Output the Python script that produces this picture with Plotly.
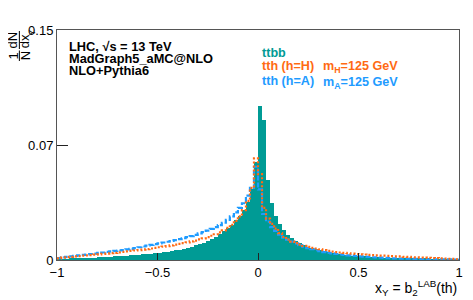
import numpy as np
import plotly.graph_objects as go

# 100 bins of width 0.02 from -1 to 1
bin_edges = np.linspace(-1.0, 1.0, 101)
bin_centers = 0.5 * (bin_edges[:-1] + bin_edges[1:])

ttbb = [
    0.0003, 0.0004, 0.0006, 0.0007, 0.0009, 0.0011, 0.0012, 0.0013, 0.0015, 0.0016,
    0.0018, 0.0019, 0.0020, 0.0022, 0.0023, 0.0025, 0.0026, 0.0028, 0.0030, 0.0032,
    0.0034, 0.0036, 0.0038, 0.0041, 0.0044, 0.0047, 0.0050, 0.0054, 0.0058, 0.0063,
    0.0068, 0.0074, 0.0080, 0.0087, 0.0095, 0.0104, 0.0114, 0.0125, 0.0138, 0.0152,
    0.0168, 0.0186, 0.0206, 0.0229, 0.0258, 0.0290, 0.0325, 0.0380, 0.0460, 0.0640,
    0.1004, 0.0913, 0.0520, 0.0370, 0.0290, 0.0235, 0.0195, 0.0165, 0.0143, 0.0125,
    0.0110, 0.0097, 0.0087, 0.0078, 0.0070, 0.0063, 0.0057, 0.0052, 0.0047, 0.0043,
    0.0039, 0.0035, 0.0032, 0.0029, 0.0027, 0.0025, 0.0023, 0.0021, 0.0019, 0.0017,
    0.0016, 0.0015, 0.0014, 0.0013, 0.0012, 0.0011, 0.0010, 0.0009, 0.0009, 0.0008,
    0.0008, 0.0007, 0.0007, 0.0006, 0.0006, 0.0005, 0.0005, 0.0004, 0.0004, 0.0003,
]

tth_H = [
    0.0010, 0.0015, 0.0018, 0.0021, 0.0023, 0.0025, 0.0028, 0.0030, 0.0032, 0.0035,
    0.0037, 0.0040, 0.0042, 0.0045, 0.0047, 0.0050, 0.0053, 0.0056, 0.0059, 0.0062,
    0.0065, 0.0068, 0.0071, 0.0075, 0.0079, 0.0083, 0.0087, 0.0091, 0.0095, 0.0100,
    0.0105, 0.0110, 0.0115, 0.0121, 0.0127, 0.0134, 0.0141, 0.0149, 0.0158, 0.0168,
    0.0180, 0.0193, 0.0210, 0.0230, 0.0255, 0.0285, 0.0325, 0.0385, 0.0470, 0.0663,
    0.0560, 0.0340, 0.0270, 0.0235, 0.0205, 0.0175, 0.0150, 0.0133, 0.0120, 0.0110,
    0.0100, 0.0092, 0.0085, 0.0079, 0.0075, 0.0070, 0.0064, 0.0059, 0.0055, 0.0052,
    0.0049, 0.0046, 0.0044, 0.0041, 0.0039, 0.0037, 0.0036, 0.0034, 0.0032, 0.0030,
    0.0029, 0.0028, 0.0027, 0.0025, 0.0024, 0.0023, 0.0021, 0.0020, 0.0018, 0.0017,
    0.0016, 0.0015, 0.0014, 0.0013, 0.0012, 0.0010, 0.0009, 0.0008, 0.0007, 0.0005,
]

tth_A = [
    0.0012, 0.0017, 0.0021, 0.0024, 0.0027, 0.0030, 0.0033, 0.0036, 0.0039, 0.0042,
    0.0046, 0.0049, 0.0053, 0.0056, 0.0059, 0.0062, 0.0065, 0.0069, 0.0073, 0.0078,
    0.0083, 0.0088, 0.0094, 0.0099, 0.0104, 0.0109, 0.0114, 0.0119, 0.0124, 0.0130,
    0.0136, 0.0142, 0.0149, 0.0156, 0.0164, 0.0173, 0.0182, 0.0192, 0.0203, 0.0215,
    0.0228, 0.0243, 0.0262, 0.0284, 0.0310, 0.0340, 0.0370, 0.0420, 0.0470, 0.0608,
    0.0460, 0.0300, 0.0250, 0.0215, 0.0190, 0.0165, 0.0145, 0.0133, 0.0120, 0.0108,
    0.0097, 0.0087, 0.0078, 0.0070, 0.0064, 0.0058, 0.0052, 0.0047, 0.0043, 0.0039,
    0.0036, 0.0033, 0.0030, 0.0028, 0.0026, 0.0024, 0.0022, 0.0020, 0.0018, 0.0017,
    0.0015, 0.0014, 0.0012, 0.0011, 0.0010, 0.0009, 0.0009, 0.0008, 0.0007, 0.0007,
    0.0006, 0.0006, 0.0005, 0.0005, 0.0005, 0.0004, 0.0004, 0.0004, 0.0003, 0.0003,
]

x_tickvals = [-1, -0.5, 0, 0.5, 1]
x_ticktext = ["\u22121", "\u22120.5", "0", "0.5", "1"]
y_tickvals = [0, 0.075, 0.15]
y_ticktext = ["0", "0.07", "0.15"]

TEAL = "#009b95"
ORANGE = "#ff6a13"
BLUE = "#1e9bff"
FONT = "Liberation Sans, Arial, Helvetica, sans-serif"

# the page body adds an 8px offset; compensate so the chart lands where the reference has it
OFF = 8
W, H = 473 - OFF, 300 - OFF
L, R, T, B = 57 - OFF, 10, 30 - OFF, 40
PW, PH = W - L - R, H - T - B


def px(x):
    return (x - OFF - L) / PW


def py(y):
    return (H - B - (y - OFF)) / PH


def step(vals):
    return list(bin_edges), list(vals) + [vals[-1]]


fig = go.Figure()
fig.add_trace(go.Bar(x=bin_centers, y=ttbb, width=0.02, marker_color=TEAL,
                     marker_line_width=0, showlegend=False))
xs, ys = step(tth_A)
fig.add_trace(go.Scatter(x=xs, y=ys, mode="lines", line_shape="hv",
                         line=dict(color=BLUE, width=2.2, dash="5px,2px"), showlegend=False))
xs, ys = step(tth_H)
fig.add_trace(go.Scatter(x=xs, y=ys, mode="lines", line_shape="hv",
                         line=dict(color=ORANGE, width=2.2, dash="2px,2px"), showlegend=False))

fig.update_layout(
    width=W, height=H, margin=dict(l=L, r=R, t=T, b=B),
    paper_bgcolor="white", plot_bgcolor="white", bargap=0,
    font=dict(family=FONT, size=13, color="black"),
    xaxis=dict(range=[-1, 1], tickvals=x_tickvals, ticktext=x_ticktext,
               ticks="inside", ticklen=7, tickcolor="#222", showgrid=False, zeroline=False,
               showline=True, linecolor="#555", linewidth=1, mirror=True,
               tickfont=dict(size=13)),
    yaxis=dict(range=[0, 0.15], tickvals=y_tickvals, ticktext=y_ticktext,
               ticks="inside", ticklen=11, tickcolor="#222", showgrid=False, zeroline=False,
               showline=True, linecolor="#555", linewidth=1, mirror=True,
               tickfont=dict(size=13)),
)

ann = []


def add(text, x, y, size=13, color="black", xanchor="left", yanchor="middle", angle=0, bold=False):
    if bold:
        text = "<b>" + text + "</b>"
    ann.append(dict(text=text, x=px(x), y=py(y), xref="paper", yref="paper",
                    xanchor=xanchor, yanchor=yanchor, showarrow=False, textangle=angle,
                    font=dict(size=size, color=color, family=FONT)))


# header text
add("LHC, \u221as = 13 TeV", 67, 46.5, size=12.8, bold=True)
add("MadGraph5_aMC@NLO", 67, 58.5, size=12.8, bold=True)
add("NLO+Pythia6", 67, 70.5, size=12.8, bold=True)

# colored legend text
add("ttbb", 262, 53, size=12.6, color=TEAL, bold=True)
add("tth (h=H)", 262, 65.5, size=12.6, color=ORANGE, bold=True)
add("m<sub>H</sub>=125 GeV", 324, 67, size=12.6, color=ORANGE, bold=True)
add("tth (h=A)", 262, 81, size=12.6, color=BLUE, bold=True)
add("m<sub>A</sub>=125 GeV", 324, 82.5, size=12.6, color=BLUE, bold=True)

# x axis title
add("x<sub>Y</sub> = b<sub>2</sub><sup>LAB</sup>(th)", 463, 288, size=14, xanchor="right")

# y axis title as two rotated fractions
add("1", 13, 56, size=13, xanchor="center", angle=-90)
add("N", 25, 56, size=13, xanchor="center", angle=-90)
add("dN", 13, 40, size=13, xanchor="center", angle=-90)
add("dx", 25, 41, size=13, xanchor="center", angle=-90)
add("Y", 31.5, 33, size=9, xanchor="center", angle=-90)

fig.update_layout(annotations=ann)

shapes = [
    dict(type="line", xref="paper", yref="paper", x0=px(19), x1=px(19), y0=py(50.5), y1=py(61),
         line=dict(color="black", width=1)),
    dict(type="line", xref="paper", yref="paper", x0=px(19), x1=px(19), y0=py(31), y1=py(49),
         line=dict(color="black", width=1)),
]
fig.update_layout(shapes=shapes)

fig.write_html("out.html")
